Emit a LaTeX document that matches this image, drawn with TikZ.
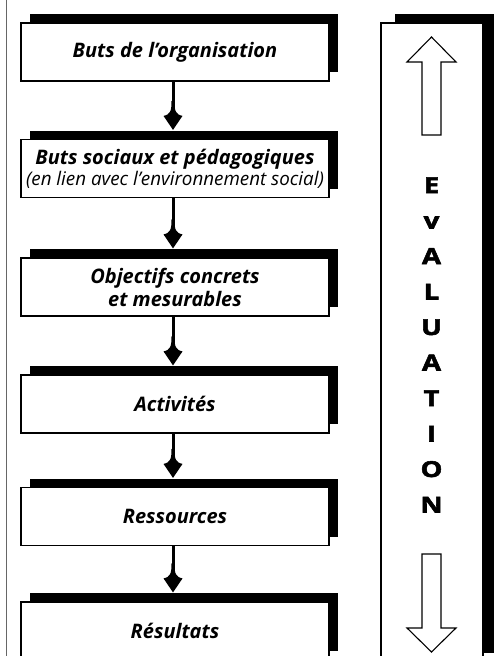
\documentclass[tikz,border=0pt]{standalone}
\usepackage{fontspec}
\setmainfont{Open Sans}
\newfontfamily\heavyfont{Open Sans}[BoldFeatures={FakeBold=2.5,FakeStretch=1.25}]
\usetikzlibrary{shadows}

% flared arrow head for the flow connectors
\pgfdeclarearrow{
  name = Flare,
  setup code = {
    \pgfarrowssettipend{0pt}
    \pgfarrowssetlineend{-18pt}
    \pgfarrowssetbackend{-29pt}
    \pgfarrowshullpoint{0pt}{0pt}
    \pgfarrowsupperhullpoint{-14pt}{9.5pt}
    \pgfarrowsupperhullpoint{-29pt}{1.5pt}
  },
  drawing code = {
    \pgfpathmoveto{\pgfqpoint{0pt}{0pt}}
    \pgfpathlineto{\pgfqpoint{-14pt}{9.5pt}}
    \pgfpathcurveto{\pgfqpoint{-15.5pt}{2.5pt}}{\pgfqpoint{-19pt}{1.5pt}}{\pgfqpoint{-29pt}{1.5pt}}
    \pgfpathlineto{\pgfqpoint{-29pt}{-1.5pt}}
    \pgfpathcurveto{\pgfqpoint{-19pt}{-1.5pt}}{\pgfqpoint{-15.5pt}{-2.5pt}}{\pgfqpoint{-14pt}{-9.5pt}}
    \pgfpathclose
    \pgfusepathqfill
  }
}

% smaller regular-weight italic for the explanatory line
\newcommand\sublinefont{\fontsize{18.8}{21}\selectfont\mdseries\itshape}

\tikzset{
  stepbox/.style={draw=black, line width=1.2pt, fill=white,
    minimum width=308pt, minimum height=58pt, inner sep=0pt, align=center,
    font=\fontsize{20}{23}\selectfont\bfseries\itshape,
    drop shadow={shadow xshift=9pt, shadow yshift=9pt, fill=black, opacity=1}},
  flow/.style={line width=3pt, -Flare},
  letter/.style={anchor=base, inner sep=0pt,
    font=\heavyfont\bfseries\fontsize{22}{22}\selectfont},
  hollow/.style={draw=black, line width=1.1pt, fill=white, line join=miter}
}

\begin{document}
\begin{tikzpicture}[x=1pt,y=-1pt]
\useasboundingbox (0,0) rectangle (498,656);
\clip (0,0) rectangle (498,656);

% margin rule
\draw[black!60, line width=1.2pt] (6.5,0) -- (6.5,656);

% chain of steps
\node[stepbox] (b1) at (175,52) {Buts de l’organisation};
\node[stepbox] (b2) at (175,168.5) {Buts sociaux et pédagogiques\\[-2pt]{\sublinefont (en lien avec l’environnement social)}};
\node[stepbox] (b3) at (175,287) {Objectifs concrets\\et mesurables};
\node[stepbox] (b4) at (175,404) {Activités};
\node[stepbox] (b5) at (175,516.5) {Ressources};
\node[stepbox] (b6) at (175,631) {Résultats};

\foreach \a/\b in {b1/b2,b2/b3,b3/b4,b4/b5,b5/b6}
  \draw[flow] ([xshift=-2pt]\a.south) -- ([xshift=-2pt,yshift=9pt]\b.north);

% evaluation panel
\fill[black] (395,14) rectangle (494,653);
\draw[line width=1.2pt, fill=white] (381,23) rectangle (483,670);

% hollow arrows
\draw[hollow] (431.5,37) -- (456,62) -- (441,62) -- (441,135) -- (422,135)
  -- (422,62) -- (407,62) -- cycle;
\draw[hollow] (431.5,652) -- (456,628) -- (441,628) -- (441,554) -- (422,554)
  -- (422,628) -- (407,628) -- cycle;

% vertical lettering
\foreach \t [count=\i from 0] in {E,v,A,L,U,A,T,I,O,N}
  \node[letter] (l\i) at (431.5,193+35.5*\i) {\t};
\end{tikzpicture}
\end{document}
